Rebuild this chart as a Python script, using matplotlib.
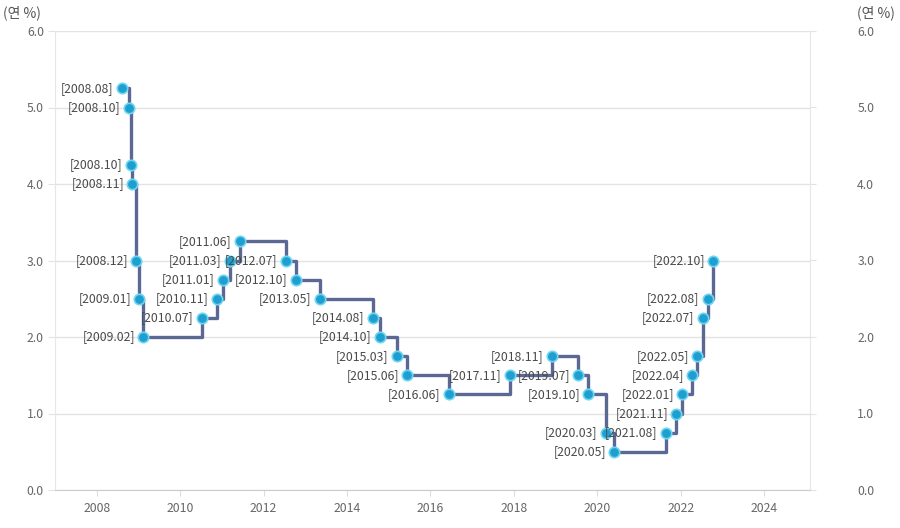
import matplotlib
matplotlib.use("Agg")
import matplotlib.pyplot as plt
from datetime import date

plt.rcParams['font.family'] = ['Noto Sans CJK KR', 'DejaVu Sans']

dates = ["2008-08-07", "2008-10-09", "2008-10-27", "2008-11-07", "2008-12-11",
         "2009-01-09", "2009-02-12", "2010-07-09", "2010-11-16", "2011-01-13",
         "2011-03-10", "2011-06-10", "2012-07-12", "2012-10-11", "2013-05-09",
         "2014-08-14", "2014-10-15", "2015-03-12", "2015-06-11", "2016-06-09",
         "2017-11-30", "2018-11-30", "2019-07-18", "2019-10-16", "2020-03-17",
         "2020-05-28", "2021-08-26", "2021-11-25", "2022-01-14", "2022-04-14",
         "2022-05-26", "2022-07-13", "2022-08-25", "2022-10-12"]
rates = [5.25, 5.00, 4.25, 4.00, 3.00,
         2.50, 2.00, 2.25, 2.50, 2.75,
         3.00, 3.25, 3.00, 2.75, 2.50,
         2.25, 2.00, 1.75, 1.50, 1.25,
         1.50, 1.75, 1.50, 1.25, 0.75,
         0.50, 0.75, 1.00, 1.25, 1.50,
         1.75, 2.25, 2.50, 3.00]
x_ticks = [2008, 2010, 2012, 2014, 2016, 2018, 2020, 2022, 2024]
y_ticks = [0.0, 1.0, 2.0, 3.0, 4.0, 5.0, 6.0]
unit_label = "(연 %)"


def to_year(s):
    d = date.fromisoformat(s)
    start = date(d.year, 1, 1)
    return d.year + (d - start).days / 365.25


xs = [to_year(s) for s in dates]
labels = ["[" + s[:4] + "." + s[5:7] + "]" for s in dates]

fig = plt.figure(figsize=(9, 5.28), dpi=100)
ax = fig.add_axes([55 / 900, 38 / 528, 755 / 900, 459 / 528])

line_c = "#5b6894"
ax.step(xs, rates, where="post", color=line_c, lw=2.4, zorder=2)
ax.plot(xs, rates, "o", ms=7.5, mfc="#1f9fd0", mec="#6fd6f2", mew=1.2, zorder=3)

for x, y, lab in zip(xs, rates, labels):
    ax.annotate(lab, (x, y), xytext=(-6, 0), textcoords="offset points",
                ha="right", va="center", fontsize=8.8, color="#4a4a4a", zorder=4)

ax.set_xlim(2007.0, 2025.1)
ax.set_ylim(0, 6)
ax.set_xticks(x_ticks)
ax.set_yticks(y_ticks)
ax.set_yticklabels([f"{v:.1f}" for v in y_ticks])
ax.grid(axis="y", color="#e3e3e3", lw=1)
ax.set_axisbelow(True)
for side in ["left", "right", "top"]:
    ax.spines[side].set_color("#e6e6e6")
ax.spines["top"].set_visible(False)
ax.spines["bottom"].set_color("#cccccc")
ax.tick_params(axis="y", length=5, color="#e3e3e3", labelsize=8.8, labelcolor="#666666", pad=3)
ax.tick_params(axis="x", length=4, color="#dddddd", labelsize=8.8, labelcolor="#666666", pad=5)

ax2 = ax.twinx()
ax2.set_ylim(0, 6)
ax2.set_yticks(y_ticks)
ax2.set_yticklabels([f"{v:.1f}" for v in y_ticks])
ax2.tick_params(axis="y", length=4, color="#e3e3e3", labelsize=8.8, labelcolor="#666666", pad=30)
for side in ["left", "right", "top", "bottom"]:
    ax2.spines[side].set_visible(False)

fig.text(3 / 900, 1 - 13 / 528, unit_label, fontsize=10, color="#555555", ha="left", va="center")
fig.text(857 / 900, 1 - 13 / 528, unit_label, fontsize=10, color="#555555", ha="left", va="center")

fig.savefig("out.png", dpi=100, facecolor="white")
